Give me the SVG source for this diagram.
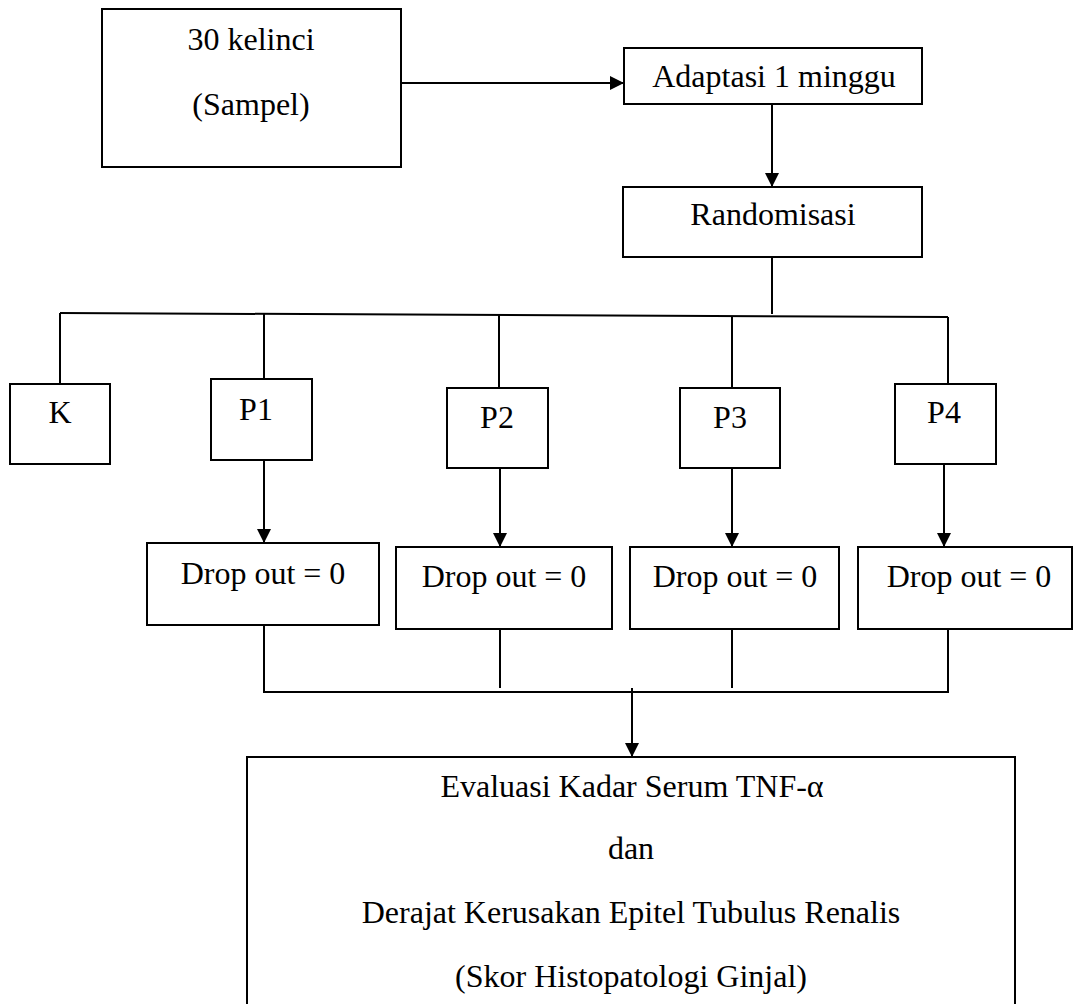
<svg xmlns="http://www.w3.org/2000/svg" width="1073" height="1004" viewBox="0 0 1073 1004">
<defs>
<style>
.box{fill:#fff;stroke:#000;stroke-width:2}
.ln{fill:none;stroke:#000;stroke-width:2}
.t{font-family:"Liberation Serif","Times New Roman",serif;font-size:32px;fill:#000;text-anchor:middle}
</style>
<marker id="ah" markerUnits="userSpaceOnUse" markerWidth="14" markerHeight="14" viewBox="0 0 14 14" refX="14" refY="7" orient="auto">
<path d="M0,0 L14,7 L0,14 Z" fill="#000"/>
</marker>
</defs>
<rect width="1073" height="1004" fill="#fff"/>
<g id="connectors">
<line class="ln" x1="401" y1="83" x2="624" y2="83" marker-end="url(#ah)"/>
<line class="ln" x1="772" y1="104" x2="772" y2="187" marker-end="url(#ah)"/>
<line class="ln" x1="772" y1="257" x2="772" y2="314"/>
<line class="ln" x1="60" y1="313" x2="948" y2="317"/>
<line class="ln" x1="60" y1="313" x2="60" y2="384"/>
<line class="ln" x1="264" y1="314" x2="264" y2="379"/>
<line class="ln" x1="499" y1="315" x2="499" y2="388"/>
<line class="ln" x1="732" y1="316" x2="732" y2="388"/>
<line class="ln" x1="948" y1="317" x2="948" y2="384"/>
<line class="ln" x1="264" y1="460" x2="264" y2="543" marker-end="url(#ah)"/>
<line class="ln" x1="500" y1="468" x2="500" y2="547" marker-end="url(#ah)"/>
<line class="ln" x1="732" y1="468" x2="732" y2="547" marker-end="url(#ah)"/>
<line class="ln" x1="944" y1="464" x2="944" y2="547" marker-end="url(#ah)"/>
<polyline class="ln" points="264,625 264,692 948,692 948,629"/>
<line class="ln" x1="500" y1="629" x2="500" y2="688"/>
<line class="ln" x1="732" y1="629" x2="732" y2="688"/>
<line class="ln" x1="632" y1="688" x2="632" y2="757" marker-end="url(#ah)"/>
</g>
<g id="sampel">
<rect class="box" x="102" y="9" width="299" height="158"/>
<text class="t" x="251" y="50">30 kelinci</text>
<text class="t" x="251" y="115">(Sampel)</text>
</g>
<g id="adaptasi">
<rect class="box" x="624" y="48" width="298" height="56"/>
<text class="t" x="774" y="87">Adaptasi 1 minggu</text>
</g>
<g id="randomisasi">
<rect class="box" x="623" y="187" width="299" height="70"/>
<text class="t" x="773" y="225">Randomisasi</text>
</g>
<g id="k">
<rect class="box" x="10" y="384" width="100" height="80"/>
<text class="t" x="60" y="423">K</text>
</g>
<g id="p1">
<rect class="box" x="211" y="379" width="101" height="81"/>
<text class="t" x="256" y="420">P1</text>
</g>
<g id="p2">
<rect class="box" x="447" y="388" width="101" height="80"/>
<text class="t" x="497" y="428">P2</text>
</g>
<g id="p3">
<rect class="box" x="680" y="388" width="100" height="80"/>
<text class="t" x="730" y="428">P3</text>
</g>
<g id="p4">
<rect class="box" x="895" y="384" width="101" height="80"/>
<text class="t" x="944" y="423">P4</text>
</g>
<g id="drop1">
<rect class="box" x="147" y="543" width="232" height="82"/>
<text class="t" x="263" y="584">Drop out = 0</text>
</g>
<g id="drop2">
<rect class="box" x="396" y="547" width="216" height="82"/>
<text class="t" x="504" y="587">Drop out = 0</text>
</g>
<g id="drop3">
<rect class="box" x="630" y="547" width="209" height="82"/>
<text class="t" x="735" y="587">Drop out = 0</text>
</g>
<g id="drop4">
<rect class="box" x="858" y="547" width="214" height="82"/>
<text class="t" x="969" y="587">Drop out = 0</text>
</g>
<g id="evaluasi">
<rect class="box" x="247" y="757" width="768" height="260"/>
<text class="t" x="632" y="797">Evaluasi Kadar Serum TNF-α</text>
<text class="t" x="631" y="859">dan</text>
<text class="t" x="631" y="923">Derajat Kerusakan Epitel Tubulus Renalis</text>
<text class="t" x="631" y="987">(Skor Histopatologi Ginjal)</text>
</g>
</svg>
